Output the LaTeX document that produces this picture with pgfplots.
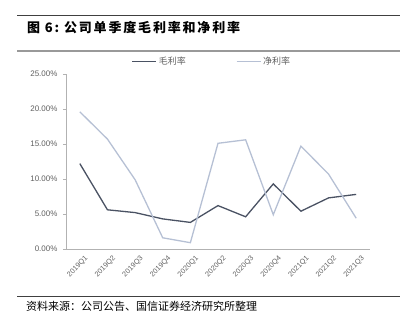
\documentclass[border=0pt]{standalone}
\usepackage{pgfplots}
\pgfplotsset{compat=1.18}
\usepackage{fontspec}
\setmainfont{Liberation Sans}
\newfontfamily\cjk{Noto Sans CJK SC}
\newfontfamily\cjkt[LetterSpace=14]{Noto Sans CJK SC}
\definecolor{grossc}{HTML}{4A5263}
\definecolor{netc}{HTML}{B6C0D4}
\definecolor{tickgray}{HTML}{606060}
\begin{document}
\begin{tikzpicture}
\path[use as bounding box] (0pt,0pt) rectangle (409pt,326pt);
\draw[black!75, line width=0.9pt] (17pt,311pt) -- (400pt,311pt);
\draw[black!40, line width=2pt] (17pt,274.5pt) -- (400pt,274.5pt);
\node[anchor=west, inner sep=0pt] at (27pt,298.5pt) {\cjkt\bfseries\fontsize{13}{15}\selectfont 图 6:\ 公司单季度毛利率和净利率};
\draw[black!75, line width=0.9pt] (17pt,30pt) -- (400pt,30pt);
\node[anchor=west, inner sep=0pt] at (26pt,20pt) {\cjk\fontsize{11}{13}\selectfont 资料来源：公司公告、国信证券经济研究所整理};
\begin{axis}[
  at={(66pt,77pt)}, anchor=south west,
  scale only axis, width=304pt, height=175pt,
  xmin=-0.5, xmax=10.5, ymin=0, ymax=25,
  axis x line=bottom, axis y line=left,
  axis line style={draw=black!30, -},
  xtick={0,...,10},
  xticklabels={2019Q1,2019Q2,2019Q3,2019Q4,2020Q1,2020Q2,2020Q3,2020Q4,2021Q1,2021Q2,2021Q3},
  ytick={0,5,10,15,20,25},
  yticklabel={\pgfmathprintnumber[fixed,fixed zerofill,precision=2]{\tick}\%},
  /pgf/number format/assume math mode=true,
  ticklabel style={text=tickgray},
  yticklabel style={font=\fontsize{8}{9}\selectfont, xshift=-2pt},
  xticklabel style={font=\fontsize{7.2}{8}\selectfont, rotate=45, anchor=east, inner sep=0pt, yshift=-9pt, xshift=1pt},
  tick style={draw=black!30},
  major tick length=3pt,
  tick align=outside,
  xtick style={draw=none},
  legend columns=2,
  legend style={at={(0.48,1.07)}, anchor=center, draw=none, fill=none,
    font=\cjk\fontsize{9}{10}\selectfont, text=tickgray,
    /tikz/every even column/.append style={column sep=48pt}},
  legend image code/.code={\draw[#1] (0pt,0pt) -- (24pt,0pt);},
]
\addplot[grossc, line width=1.3pt] coordinates {
 (0,12.2) (1,5.6) (2,5.2) (3,4.3) (4,3.8) (5,6.2) (6,4.6) (7,9.3) (8,5.4) (9,7.3) (10,7.8)};
\addlegendentry{毛利率}
\addplot[netc, line width=1.3pt] coordinates {
 (0,19.6) (1,15.7) (2,9.9) (3,1.6) (4,0.9) (5,15.1) (6,15.6) (7,4.9) (8,14.7) (9,10.7) (10,4.4)};
\addlegendentry{净利率}
\end{axis}
\end{tikzpicture}
\end{document}
